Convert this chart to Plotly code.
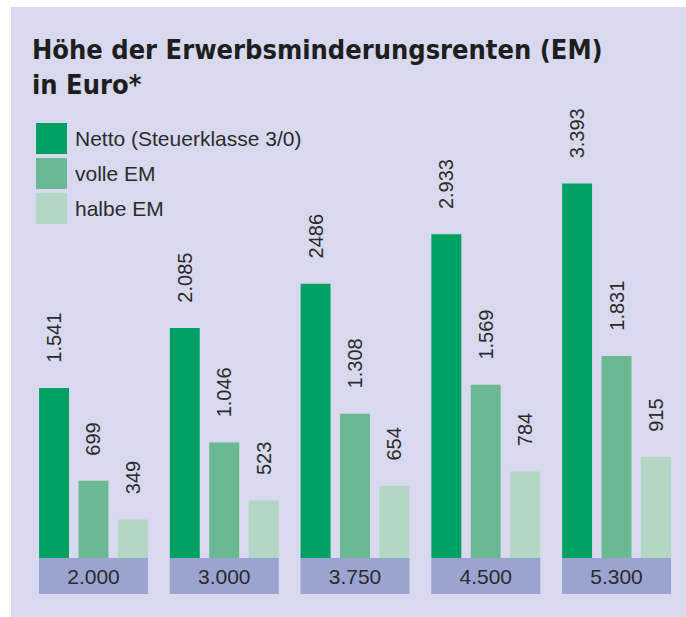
import plotly.graph_objects as go

W, H = 686, 617

categories = ["2.000", "3.000", "3.750", "4.500", "5.300"]
netto = [1541, 2085, 2486, 2933, 3393]
volle = [699, 1046, 1308, 1569, 1831]
halbe = [349, 523, 654, 784, 915]
netto_labels = ["1.541", "2.085", "2486", "2.933", "3.393"]
volle_labels = ["699", "1.046", "1.308", "1.569", "1.831"]
halbe_labels = ["349", "523", "654", "784", "915"]
series_names = ["Netto (Steuerklasse 3/0)", "volle EM", "halbe EM"]

C_NETTO = "#00a063"
C_VOLLE = "#6bb993"
C_HALBE = "#b3d7c4"
C_BOX = "#9ba3d1"
C_PANEL = "#d8d9ee"
TXT = "#2b2b2b"
FONT = "Liberation Sans, Arial, sans-serif"


def px(x):
    return x / W


def py(y):
    return 1 - y / H


fig = go.Figure()

pad = "\u00a0\u00a0\u00a0\u00a0"
for vals, labs, col, name in [
    (netto, netto_labels, C_NETTO, series_names[0]),
    (volle, volle_labels, C_VOLLE, series_names[1]),
    (halbe, halbe_labels, C_HALBE, series_names[2]),
]:
    fig.add_trace(go.Bar(
        x=categories, y=vals, name=name, marker=dict(color=col, line=dict(width=0)),
        text=labs, texttemplate=pad + "%{text}", textposition="outside", textangle=-90,
        constraintext="none", hoverinfo="skip",
        textfont=dict(family=FONT, size=20, color=TXT), cliponaxis=False,
        showlegend=False, xaxis="x", yaxis="y",
    ))

# category boxes
fig.add_trace(go.Bar(
    x=categories, y=[1] * len(categories), width=0.834,
    marker=dict(color=C_BOX, line=dict(width=0)),
    text=categories, textposition="inside", insidetextanchor="middle", textangle=0,
    constraintext="none", hoverinfo="skip",
    textfont=dict(family=FONT, size=21, color=TXT),
    showlegend=False, xaxis="x2", yaxis="y2",
))

shapes = [dict(type="rect", xref="paper", yref="paper", x0=px(11), x1=1, y0=0, y1=py(7),
               fillcolor=C_PANEL, line=dict(width=0), layer="below")]
annotations = [dict(
    text="<b>Höhe der Erwerbsminderungsrenten (EM)<br>in Euro*</b>",
    xref="paper", yref="paper", x=px(30), y=py(32), xanchor="left", yanchor="top",
    showarrow=False, align="left",
    font=dict(family="DejaVu Sans Condensed, Liberation Sans Narrow, sans-serif", size=27, color="#1e1e1e"),
)]
leg_cols = [C_NETTO, C_VOLLE, C_HALBE]
for i, (name, col) in enumerate(zip(series_names, leg_cols)):
    top = 123 + i * 35
    shapes.append(dict(type="rect", xref="paper", yref="paper", x0=px(36), x1=px(67),
                       y0=py(top + 31), y1=py(top), fillcolor=col, line=dict(width=0)))
    annotations.append(dict(text=name, xref="paper", yref="paper", x=px(73), y=py(top + 15.5),
                            xanchor="left", yanchor="middle", showarrow=False,
                            font=dict(family=FONT, size=21, color=TXT)))

fig.update_layout(
    width=W, height=H, margin=dict(l=0, r=0, t=0, b=0),
    paper_bgcolor="white", plot_bgcolor="rgba(0,0,0,0)",
    barmode="group", bargap=0.0954, bargroupgap=0.2405,
    xaxis=dict(domain=[px(28.1), px(681.9)], showticklabels=False, showgrid=False,
               zeroline=False, showline=False, ticks="", anchor="y"),
    yaxis=dict(domain=[py(558), py(100)], range=[0, 4150], visible=False, anchor="x"),
    xaxis2=dict(domain=[px(28.1), px(681.9)], matches="x", showticklabels=False, showgrid=False,
                zeroline=False, showline=False, ticks="", anchor="y2"),
    yaxis2=dict(domain=[py(594), py(558)], range=[0, 1], visible=False, anchor="x2"),
    shapes=shapes, annotations=annotations,
)

fig.write_html("out.html", config={"displayModeBar": False},
               post_script="document.body.style.margin='0';document.body.style.padding='0';")
